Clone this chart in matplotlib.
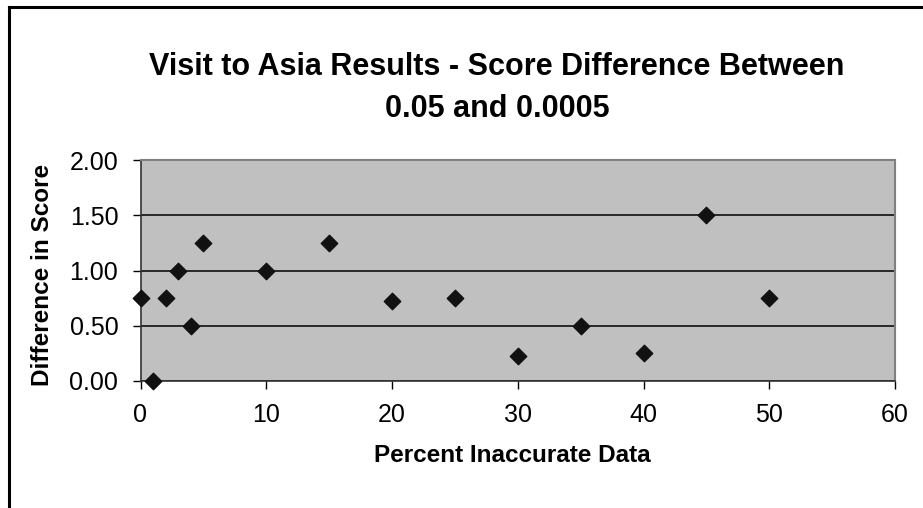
import matplotlib
matplotlib.use("Agg")
import matplotlib.pyplot as plt
from matplotlib.lines import Line2D

plt.rcParams['font.family'] = ['Liberation Sans', 'DejaVu Sans']

# Score differences by percentage of inaccurate data
percent_inaccurate = [0, 1, 2, 3, 4, 5, 10, 15, 20, 25, 30, 35, 40, 45, 50]
score_difference = [0.75, 0.0, 0.75, 1.0, 0.5, 1.25, 1.0, 1.25, 0.72, 0.75,
                    0.23, 0.5, 0.25, 1.5, 0.75]

x_ticks = [0, 10, 20, 30, 40, 50, 60]
y_ticks = [0.0, 0.5, 1.0, 1.5, 2.0]
y_tick_labels = [f"{v:.2f}" for v in y_ticks]

title = "Visit to Asia Results - Score Difference Between\n0.05 and 0.0005"
x_label = "Percent Inaccurate Data"
y_label = "Difference in Score"

W, H = 923, 508
fig = plt.figure(figsize=(W / 100, H / 100), dpi=100)
fig.patch.set_facecolor("white")

# Chart-area border (runs off the right and bottom edges)
fig.add_artist(Line2D([8.5 / W, 8.5 / W], [0, 1 - 6.5 / H],
                      transform=fig.transFigure, color="black", lw=2.2))
fig.add_artist(Line2D([8.5 / W, 1], [1 - 6.5 / H, 1 - 6.5 / H],
                      transform=fig.transFigure, color="black", lw=2.2))

ax = fig.add_axes([140.5 / W, 1 - 381 / H, (895 - 140.5) / W, (381 - 160) / H])
ax.set_facecolor("#c0c0c0")

ax.scatter(percent_inaccurate, score_difference, marker="D", s=70,
           color="#111111", zorder=3, clip_on=False)

ax.set_xlim(0, 60)
ax.set_ylim(0, 2.0)
ax.set_xticks(x_ticks)
ax.set_xticklabels([str(v) for v in x_ticks])
ax.set_yticks(y_ticks)
ax.set_yticklabels(y_tick_labels)

ax.yaxis.grid(True, color="black", lw=1.1)
ax.set_axisbelow(True)

for side in ("top", "right"):
    ax.spines[side].set_color("#808080")
    ax.spines[side].set_linewidth(1.5)
for side in ("left", "bottom"):
    ax.spines[side].set_color("#333333")
    ax.spines[side].set_linewidth(1.2)

ax.tick_params(axis="both", direction="out", length=6, width=1, color="black",
               labelsize=18)
ax.tick_params(axis="y", pad=10)
ax.tick_params(axis="x", pad=10)

fig.text(512 / W, 1 - 455 / H, x_label, ha="center", va="center",
         fontsize=17.5, fontweight="bold")
fig.text(43 / W, 1 - 275 / H, y_label, ha="center", va="center",
         rotation=90, fontsize=17.5, fontweight="bold")

fig.text(497 / W, 1 - 88 / H, title, ha="center", va="center",
         fontsize=22, fontweight="bold", linespacing=1.5)

fig.savefig("out.png", dpi=100)
